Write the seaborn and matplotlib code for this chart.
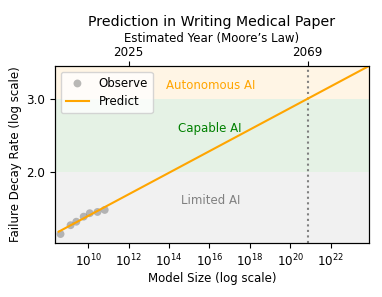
import matplotlib
matplotlib.use('Agg')
import matplotlib.pyplot as plt
import matplotlib.ticker as mticker
import seaborn as sns
import numpy as np
import pandas as pd

model_size = [4.3e8, 1.35e9, 2.6e9, 6.0e9, 1.2e10, 2.9e10, 6.6e10]
decay_rate = [1.423, 1.494, 1.523, 1.566, 1.596, 1.607, 1.625]

# fitted power law line endpoints
pred_size = [3.5e8, 8.0e23]
pred_rate = [1.442, 3.59]

year_ticks = [1e12, 7.3e20]
year_labels = ['2025', '2069']
cross_size = 7.3e20

df_obs = pd.DataFrame({'size': model_size, 'rate': decay_rate})
xs = np.logspace(np.log10(pred_size[0]), np.log10(pred_size[1]), 50)
b = np.log(pred_rate[1] / pred_rate[0]) / np.log(pred_size[1] / pred_size[0])
df_pred = pd.DataFrame({'size': xs, 'rate': pred_rate[0] * (xs / pred_size[0]) ** b})

fig = plt.figure(figsize=(3.82, 2.97), dpi=100)
ax = fig.add_axes([0.144, 0.182, 0.822, 0.596])

ax.set_xscale('log')
ax.set_yscale('log')
xlim = (10 ** 8.36, 10 ** 23.9)
ylim = (1.355, 3.59)

ax.axhspan(ylim[0], 2.0, color='lightgray', alpha=0.3, lw=0)
ax.axhspan(2.0, 3.0, color='green', alpha=0.1, lw=0)
ax.axhspan(3.0, ylim[1], color='orange', alpha=0.1, lw=0)

sns.scatterplot(data=df_obs, x='size', y='rate', color='gray', alpha=0.55, s=32,
                edgecolor='none', label='Observe', ax=ax, zorder=3)
sns.lineplot(data=df_pred, x='size', y='rate', color='orange', lw=1.5,
             label='Predict', ax=ax, zorder=4)
ax.axvline(cross_size, color='gray', ls=':', lw=1.5)

fs = 8.5
ax.text(1.1e16, 3.22, 'Autonomous AI', color='orange', fontsize=fs, ha='center', va='center')
ax.text(1.1e16, 2.55, 'Capable AI', color='green', fontsize=fs, ha='center', va='center')
ax.text(1.1e16, 1.71, 'Limited AI', color='gray', fontsize=fs, ha='center', va='center')

ax.set_xlim(xlim)
ax.set_ylim(ylim)
ax.set_xticks([10.0 ** k for k in range(10, 24, 2)])
ax.xaxis.set_minor_locator(mticker.NullLocator())
ax.yaxis.set_major_locator(mticker.FixedLocator([2.0, 3.0]))
ax.yaxis.set_major_formatter(mticker.FormatStrFormatter('%.1f'))
ax.yaxis.set_minor_locator(mticker.NullLocator())
ax.tick_params(labelsize=8.6)

ax.set_xlabel('Model Size (log scale)', fontsize=fs, labelpad=2)
ax.set_ylabel('Failure Decay Rate (log scale)', fontsize=fs, labelpad=3)
ax.legend(loc='upper left', fontsize=fs)

top = ax.twiny()
top.set_xscale('log')
top.set_xlim(xlim)
top.set_xticks(year_ticks)
top.set_xticklabels(year_labels)
top.xaxis.set_minor_locator(mticker.NullLocator())
top.tick_params(labelsize=8.6, pad=1.5)
top.set_xlabel('Estimated Year (Moore\u2019s Law)', fontsize=fs, labelpad=3)
top.set_title('Prediction in Writing Medical Paper', fontsize=10.2, pad=4)

fig.savefig('out.png', dpi=100)
